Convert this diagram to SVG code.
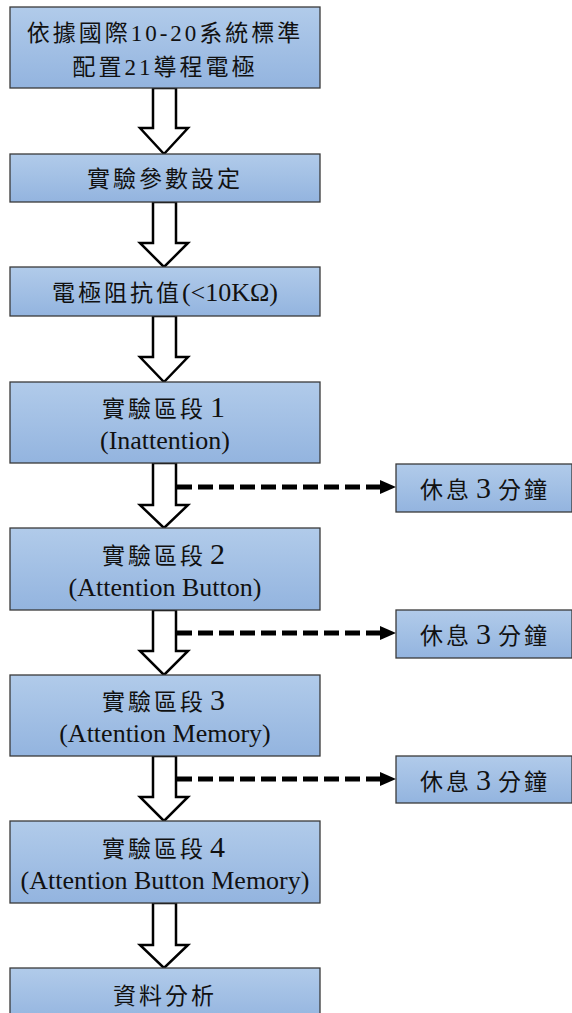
<svg xmlns="http://www.w3.org/2000/svg" width="572" height="1013" viewBox="0 0 572 1013">
<defs>
<linearGradient id="g" x1="0" y1="0" x2="0" y2="1">
<stop offset="0" stop-color="#b1cbea"/>
<stop offset="1" stop-color="#93b4df"/>
</linearGradient>
<style>
.box{fill:url(#g);stroke:#3a3a3a;stroke-width:1.3}
.t{font-family:"Liberation Serif","Noto Sans CJK TC",serif;font-size:23px;fill:#111;text-anchor:middle}
.cj{letter-spacing:3px}
.en{font-size:26px}
.dg{font-size:30px}
.blk{fill:#fff;stroke:#000;stroke-width:2.5;stroke-linejoin:miter}
.dash{stroke:#000;stroke-width:5;stroke-dasharray:15 6;fill:none}
</style>
</defs>
<rect width="572" height="1013" fill="#fff"/>
<g id="connectors">
<path class="blk" d="M153,88 V128 H140 L164,154 L188,128 H176 V88 Z"/>
<path class="blk" d="M153,202 V243 H140 L164,267 L188,243 H176 V202 Z"/>
<path class="blk" d="M153,316 V357 H140 L164,382 L188,357 H176 V316 Z"/>
<path class="blk" d="M153,463 V505 H140 L164,528 L188,505 H176 V463 Z"/>
<path class="blk" d="M153,610 V651 H140 L164,675 L188,651 H176 V610 Z"/>
<path class="blk" d="M153,756 V797 H140 L164,821 L188,797 H176 V756 Z"/>
<path class="blk" d="M153,903 V945 H140 L164,968 L188,945 H176 V903 Z"/>
<line class="dash" x1="177" y1="487" x2="380" y2="487"/>
<path d="M380,480 L396,487 L380,494 Z"/>
<line class="dash" x1="177" y1="633" x2="380" y2="633"/>
<path d="M380,626 L396,633 L380,640 Z"/>
<line class="dash" x1="177" y1="779" x2="380" y2="779"/>
<path d="M380,772 L396,779 L380,786 Z"/>
</g>
<g id="n1"><rect class="box" x="10" y="7" width="310" height="81"/>
<text class="t cj" x="165" y="41">依據國際10-20系統標準</text>
<text class="t cj" x="165" y="75">配置21導程電極</text></g>
<g id="n2"><rect class="box" x="10" y="154" width="310" height="48"/>
<text class="t cj" x="165" y="187">實驗參數設定</text></g>
<g id="n3"><rect class="box" x="10" y="267" width="310" height="49"/>
<text class="t" x="165" y="301"><tspan class="cj">電極阻抗值</tspan><tspan class="en">(&lt;10KΩ)</tspan></text></g>
<g id="n4"><rect class="box" x="10" y="382" width="310" height="81"/>
<text class="t cj" x="165" y="417">實驗區段<tspan class="dg" dx="4">1</tspan></text>
<text class="t en" x="165" y="449">(Inattention)</text></g>
<g id="r1"><rect class="box" x="396" y="464" width="176" height="48"/>
<text class="t cj" x="485" y="498">休息<tspan class="dg" dx="4">3</tspan><tspan dx="4">分鐘</tspan></text></g>
<g id="n5"><rect class="box" x="10" y="528" width="310" height="82"/>
<text class="t cj" x="165" y="564">實驗區段<tspan class="dg" dx="4">2</tspan></text>
<text class="t en" x="165" y="596">(Attention Button)</text></g>
<g id="r2"><rect class="box" x="396" y="610" width="176" height="48"/>
<text class="t cj" x="485" y="644">休息<tspan class="dg" dx="4">3</tspan><tspan dx="4">分鐘</tspan></text></g>
<g id="n6"><rect class="box" x="10" y="675" width="310" height="81"/>
<text class="t cj" x="165" y="710">實驗區段<tspan class="dg" dx="4">3</tspan></text>
<text class="t en" x="165" y="742">(Attention Memory)</text></g>
<g id="r3"><rect class="box" x="396" y="756" width="176" height="47"/>
<text class="t cj" x="485" y="790">休息<tspan class="dg" dx="4">3</tspan><tspan dx="4">分鐘</tspan></text></g>
<g id="n7"><rect class="box" x="10" y="821" width="310" height="82"/>
<text class="t cj" x="165" y="857">實驗區段<tspan class="dg" dx="4">4</tspan></text>
<text class="t en" x="165" y="889">(Attention Button Memory)</text></g>
<g id="n8"><rect class="box" x="10" y="968" width="310" height="55"/>
<text class="t cj" x="165" y="1004">資料分析</text></g>
</svg>
